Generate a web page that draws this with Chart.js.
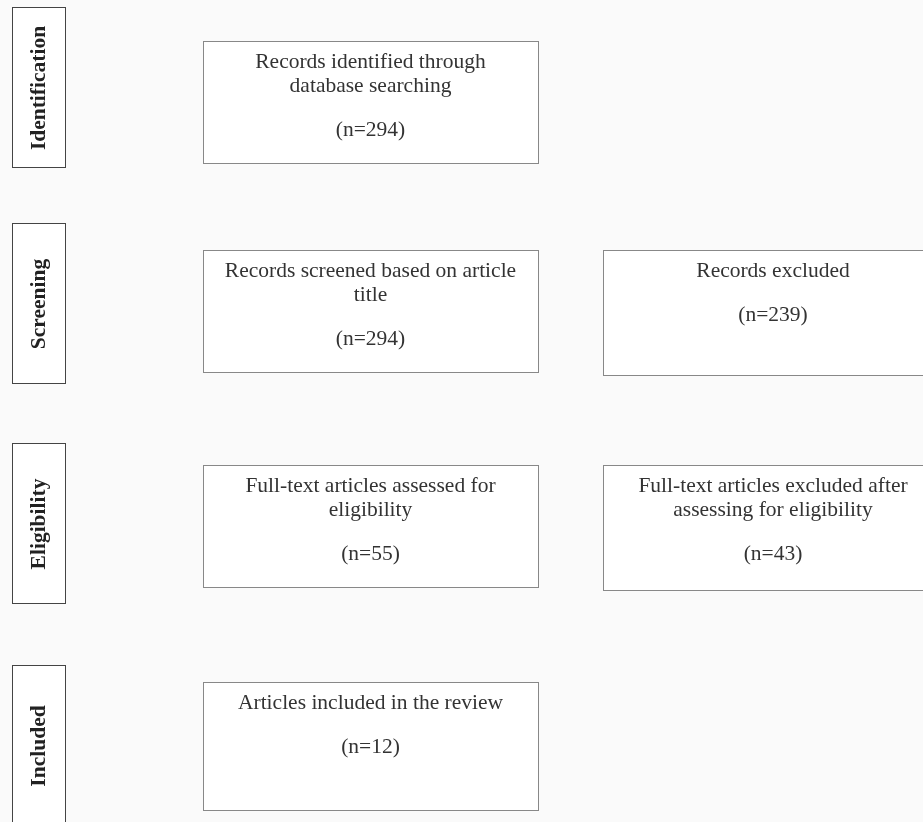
<!DOCTYPE html>
<html>
<head>
<meta charset="utf-8">
<script src="https://cdn.jsdelivr.net/npm/chart.js@4.4.1/dist/chart.umd.min.js"></script>
<style>
  html, body { margin: 0; padding: 0; background: #fafafa; }
  #wrap { width: 923px; height: 822px; }
</style>
</head>
<body>
<div id="wrap"><canvas id="flow" width="923" height="822"></canvas></div>
<script>
// Etapas y contenido del diagrama
const stages = ['Identification', 'Screening', 'Eligibility', 'Included'];
const mainText = [
    ['Records identified through', 'database searching'],
    ['Records screened based on article', 'title'],
    ['Full-text articles assessed for', 'eligibility'],
    ['Articles included in the review']
];
const mainCounts = [294, 294, 55, 12];
const excludedText = [
    null,
    ['Records excluded'],
    ['Full-text articles excluded after', 'assessing for eligibility'],
    null
];
const excludedCounts = [null, 239, 43, null];

// Disposición (unidades de los ejes)
const stageTop = [7, 223, 443, 665];
const stageBox = { x0: 12, x1: 65, h: 160 };
const mainTop = [41, 250, 465, 682];
const mainH = [122, 122, 122, 128];
const mainX = [203, 538];
const exclX = [603, 930];
const exclH = 125;

const FONT = '"Liberation Serif", "Times New Roman", serif';

function drawBox(ctx, xs, ys, x0, y0, x1, y1, color) {
    const l = Math.round(xs.getPixelForValue(x0)) + 0.5;
    const r = Math.round(xs.getPixelForValue(x1)) + 0.5;
    const t = Math.round(ys.getPixelForValue(y0)) + 0.5;
    const b = Math.round(ys.getPixelForValue(y1)) + 0.5;
    ctx.fillStyle = '#ffffff';
    ctx.fillRect(l, t, r - l, b - t);
    ctx.strokeStyle = color;
    ctx.lineWidth = 1;
    ctx.strokeRect(l, t, r - l, b - t);
}

function drawText(ctx, xs, ys, lines, count, x0, x1, top) {
    const cx = xs.getPixelForValue((x0 + x1) / 2);
    ctx.fillStyle = '#333333';
    ctx.font = '21.5px ' + FONT;
    ctx.textAlign = 'center';
    ctx.textBaseline = 'middle';
    lines.forEach((ln, i) => {
        ctx.fillText(ln, cx, ys.getPixelForValue(top + 21 + i * 24));
    });
    const cy = top + 65 + (lines.length - 1) * 24;
    ctx.fillText('(n=' + count + ')', cx, ys.getPixelForValue(cy));
}

const flowPlugin = {
    id: 'flow',
    afterDraw(chart) {
        const ctx = chart.ctx;
        const xs = chart.scales.x;
        const ys = chart.scales.y;
        ctx.save();
        stages.forEach((name, i) => {
            // caja lateral de la etapa
            const t = stageTop[i];
            drawBox(ctx, xs, ys, stageBox.x0, t, stageBox.x1, t + stageBox.h, '#444444');
            ctx.save();
            ctx.translate(xs.getPixelForValue((stageBox.x0 + stageBox.x1) / 2 + 1),
                          ys.getPixelForValue(t + stageBox.h / 2 + 1));
            ctx.rotate(-Math.PI / 2);
            ctx.fillStyle = '#222222';
            ctx.font = 'bold 21.5px ' + FONT;
            ctx.textAlign = 'center';
            ctx.textBaseline = 'middle';
            ctx.fillText(name, 0, 0);
            ctx.restore();

            // caja principal
            drawBox(ctx, xs, ys, mainX[0], mainTop[i], mainX[1], mainTop[i] + mainH[i], '#888888');
            drawText(ctx, xs, ys, mainText[i], mainCounts[i], mainX[0], mainX[1], mainTop[i]);

            // caja de excluidos
            if (excludedText[i]) {
                drawBox(ctx, xs, ys, exclX[0], mainTop[i], exclX[1], mainTop[i] + exclH, '#888888');
                drawText(ctx, xs, ys, excludedText[i], excludedCounts[i], exclX[0], 923 + 20, mainTop[i]);
            }
        });
        ctx.restore();
    }
};

new Chart(document.getElementById('flow'), {
    type: 'scatter',
    data: {
        datasets: [{
            data: mainCounts.map((c, i) => ({ x: (mainX[0] + mainX[1]) / 2, y: mainTop[i] })),
            pointRadius: 0
        }]
    },
    options: {
        responsive: false,
        animation: false,
        layout: { padding: 0 },
        plugins: { legend: { display: false }, tooltip: { enabled: false } },
        scales: {
            x: { type: 'linear', min: 0, max: 923, display: false },
            y: { type: 'linear', min: 0, max: 822, reverse: true, display: false }
        }
    },
    plugins: [flowPlugin]
});
</script>
</body>
</html>
